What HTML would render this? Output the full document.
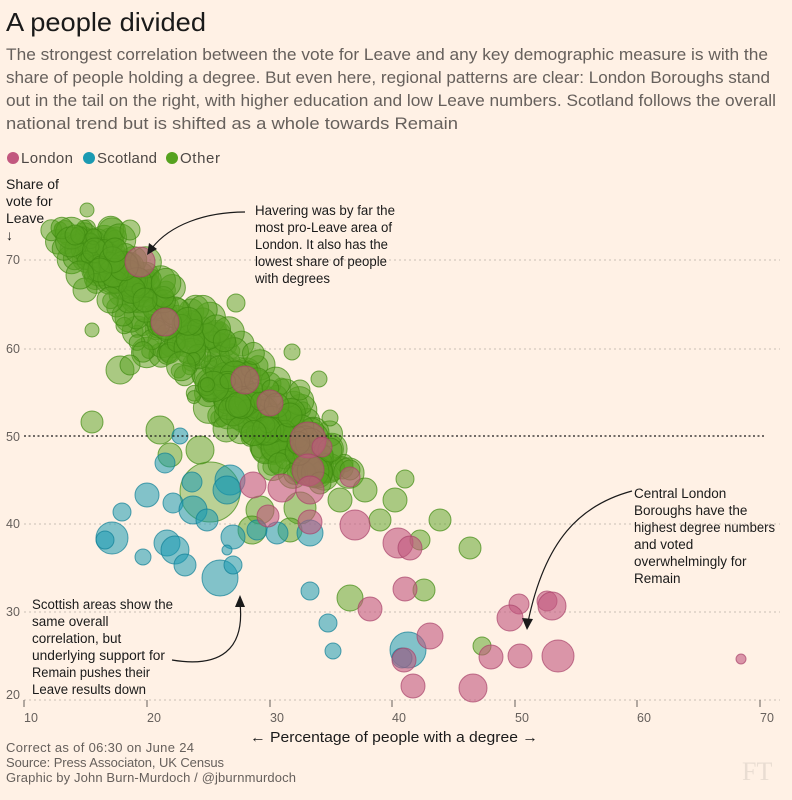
<!DOCTYPE html>
<html><head><meta charset="utf-8">
<style>
body{margin:0;background:#fff1e5;width:792px;height:800px;overflow:hidden;font-family:"Liberation Sans",sans-serif;}
svg{position:absolute;left:0;top:0}
</style></head>
<body>
<svg id="s" width="792" height="800" xmlns="http://www.w3.org/2000/svg">
<rect width="792" height="800" fill="#fff1e5"/>
<text x="6" y="31" font-size="26" fill="#1a1a1a" textLength="200" lengthAdjust="spacingAndGlyphs">A people divided</text>
<g font-size="16.5" fill="#66605c">
<text x="6" y="60" textLength="762" lengthAdjust="spacingAndGlyphs">The strongest correlation between the vote for Leave and any key demographic measure is with the</text>
<text x="6" y="83" textLength="764" lengthAdjust="spacingAndGlyphs">share of people holding a degree. But even here, regional patterns are clear: London Boroughs stand</text>
<text x="6" y="106" textLength="770" lengthAdjust="spacingAndGlyphs">out in the tail on the right, with higher education and low Leave numbers. Scotland follows the overall</text>
<text x="6" y="129" textLength="452" lengthAdjust="spacingAndGlyphs">national trend but is shifted as a whole towards Remain</text>
</g>
<g font-size="15" fill="#4d4845">
<circle cx="13" cy="158" r="6" fill="#c2587f"/><text x="21" y="163" textLength="52">London</text>
<circle cx="89" cy="158" r="6" fill="#1b9ab2"/><text x="97" y="163" textLength="60">Scotland</text>
<circle cx="172" cy="158" r="6" fill="#56a21f"/><text x="180" y="163" textLength="40">Other</text>
</g>
<g font-size="14" fill="#1a1a1a">
<text x="6" y="189">Share of</text><text x="6" y="206">vote for</text><text x="6" y="223">Leave</text><text x="6" y="240">↓</text>
</g>
<g stroke="#c9bfb5" stroke-dasharray="2,3" stroke-width="1">
<line x1="24" y1="260" x2="780" y2="260"/><line x1="24" y1="349" x2="780" y2="349"/>
<line x1="24" y1="524" x2="780" y2="524"/><line x1="24" y1="612" x2="780" y2="612"/><line x1="24" y1="700" x2="780" y2="700"/>
</g>
<g font-size="12.5" fill="#66605c">
<text x="6" y="264">70</text><text x="6" y="353">60</text><text x="6" y="441">50</text><text x="6" y="528">40</text><text x="6" y="616">30</text><text x="6" y="699">20</text>
</g>
<g id="dots"></g>
<line x1="24" y1="436" x2="764" y2="436" stroke="#1a1a1a" stroke-dasharray="2,2.5" stroke-width="1.3"/>
<g stroke="#66605c" stroke-width="1">
<line x1="24" y1="700" x2="24" y2="707"/><line x1="147" y1="700" x2="147" y2="707"/><line x1="270" y1="700" x2="270" y2="707"/><line x1="392" y1="700" x2="392" y2="707"/><line x1="515" y1="700" x2="515" y2="707"/><line x1="637" y1="700" x2="637" y2="707"/><line x1="760" y1="700" x2="760" y2="707"/>
</g>
<g font-size="12.5" fill="#66605c">
<text x="24" y="722">10</text><text x="147" y="722">20</text><text x="270" y="722">30</text><text x="392" y="722">40</text><text x="515" y="722">50</text><text x="637" y="722">60</text><text x="760" y="722">70</text>
</g>
<text x="250" y="742" font-size="15" fill="#1a1a1a" textLength="288" lengthAdjust="spacingAndGlyphs">← Percentage of people with a degree →</text>
<g font-size="13" fill="#66605c">
<text x="6" y="752" textLength="188">Correct as of 06:30 on June 24</text>
<text x="6" y="767" textLength="218">Source: Press Associaton, UK Census</text>
<text x="6" y="782" textLength="290">Graphic by John Burn-Murdoch / @jburnmurdoch</text>
</g>
<text x="742" y="780" font-size="26" font-family="Liberation Serif,serif" fill="#e9ddd2">FT</text>
<g font-size="13.5" fill="#1a1a1a">
<text x="255" y="215" textLength="140" lengthAdjust="spacingAndGlyphs">Havering was by far the</text>
<text x="255" y="232" textLength="137" lengthAdjust="spacingAndGlyphs">most pro-Leave area of</text>
<text x="255" y="249" textLength="133" lengthAdjust="spacingAndGlyphs">London. It also has the</text>
<text x="255" y="266" textLength="132" lengthAdjust="spacingAndGlyphs">lowest share of people</text>
<text x="255" y="283" textLength="75" lengthAdjust="spacingAndGlyphs">with degrees</text>
<text x="634" y="498">Central London</text>
<text x="634" y="515">Boroughs have the</text>
<text x="634" y="532" textLength="141" lengthAdjust="spacingAndGlyphs">highest degree numbers</text>
<text x="634" y="549">and voted</text>
<text x="634" y="566">overwhelmingly for</text>
<text x="634" y="583">Remain</text>
<text x="32" y="609" textLength="141" lengthAdjust="spacingAndGlyphs">Scottish areas show the</text>
<text x="32" y="626">same overall</text>
<text x="32" y="643">correlation, but</text>
<text x="32" y="660" textLength="133" lengthAdjust="spacingAndGlyphs">underlying support for</text>
<text x="32" y="677" textLength="118" lengthAdjust="spacingAndGlyphs">Remain pushes their</text>
<text x="32" y="694" textLength="114" lengthAdjust="spacingAndGlyphs">Leave results down</text>
</g>
<g fill="none" stroke="#1a1a1a" stroke-width="1.2">
<path d="M245 212 C205 212 170 225 152 248"/>
<path d="M632 491 C580 505 545 540 528 622"/>
<path d="M172 660 C220 668 245 650 240 603"/>
</g>
<g fill="#1a1a1a">
<polygon points="147,255 149,243 157,249"/>
<polygon points="527,630 522,618 533,619"/>
<polygon points="240,595 235,607 245,607"/>
</g>
</svg>
<script>
var g=document.getElementById('dots'),NS='http://www.w3.org/2000/svg';
function c(x,y,r,col,op){var e=document.createElementNS(NS,'circle');e.setAttribute('cx',x);e.setAttribute('cy',y);e.setAttribute('r',r);
var f={g:'#56a21f',p:'#c2587f',b:'#1b9ab2'}[col],s={g:'#3f8a10',p:'#a8416a',b:'#0f7f96'}[col];
e.setAttribute('fill',f);e.setAttribute('fill-opacity',op||0.55);e.setAttribute('stroke',s);e.setAttribute('stroke-opacity',0.7);e.setAttribute('stroke-width',1);g.appendChild(e);}
var seed=7;function rnd(){seed=(seed*16807)%2147483647;return seed/2147483647;}
c(210,492,30,'g',0.4);
for(var i=0;i<420;i++){var u=rnd();var y=228+u*250;
var cx=110+(y-260)*0.97; var hw=(y<300?40:(y>440?45:62));
var x=cx+(rnd()+rnd()-1)*hw;
c(x,y,6+rnd()*10,'g',0.5);}
[[87,210,7],[92,330,7],[92,422,11],[292,352,8],[319,379,8],[330,418,8],[405,479,9],[440,520,11],[470,548,11],[424,590,11],[350,598,13],[482,646,9],[236,303,9],[320,483,11],[300,508,16],[260,510,14],[395,500,12],[380,520,11],[420,540,10],[350,470,10],[365,490,12],[340,500,12],[290,530,12],[252,530,14],[75,235,10],[100,270,12],[130,230,10],[115,250,12],[300,390,10],[290,415,12],[330,450,12],[160,430,14],[170,455,12],[200,450,14],[120,370,14],[130,365,10],[145,300,12],[110,300,13],[85,290,12],[80,275,14]].forEach(function(a){c(a[0],a[1],a[2],'g',0.5);});
[[180,436,8],[165,463,10],[147,495,12],[122,512,9],[112,538,16],[105,540,9],[143,557,8],[167,543,13],[175,550,14],[192,482,10],[173,503,10],[193,510,14],[207,520,11],[230,480,15],[227,490,14],[233,537,12],[227,550,5],[257,530,10],[277,533,11],[310,533,13],[185,565,11],[220,578,18],[233,565,9],[310,591,9],[328,623,9],[333,651,8],[408,650,18],[402,658,10]].forEach(function(a){c(a[0],a[1],a[2],'b',0.55);});
[[140,262,15],[165,322,14],[245,380,14],[270,403,13],[308,440,18],[322,447,10],[350,477,10],[253,485,13],[282,488,14],[308,470,16],[310,490,14],[268,516,11],[310,522,12],[355,525,15],[398,543,15],[410,548,12],[405,589,12],[370,609,12],[430,636,13],[404,660,12],[413,686,12],[473,688,14],[491,657,12],[519,604,10],[510,618,13],[520,656,12],[547,601,10],[552,606,14],[558,656,16],[741,659,5]].forEach(function(a){c(a[0],a[1],a[2],'p',0.6);});
</script>
</body></html>
